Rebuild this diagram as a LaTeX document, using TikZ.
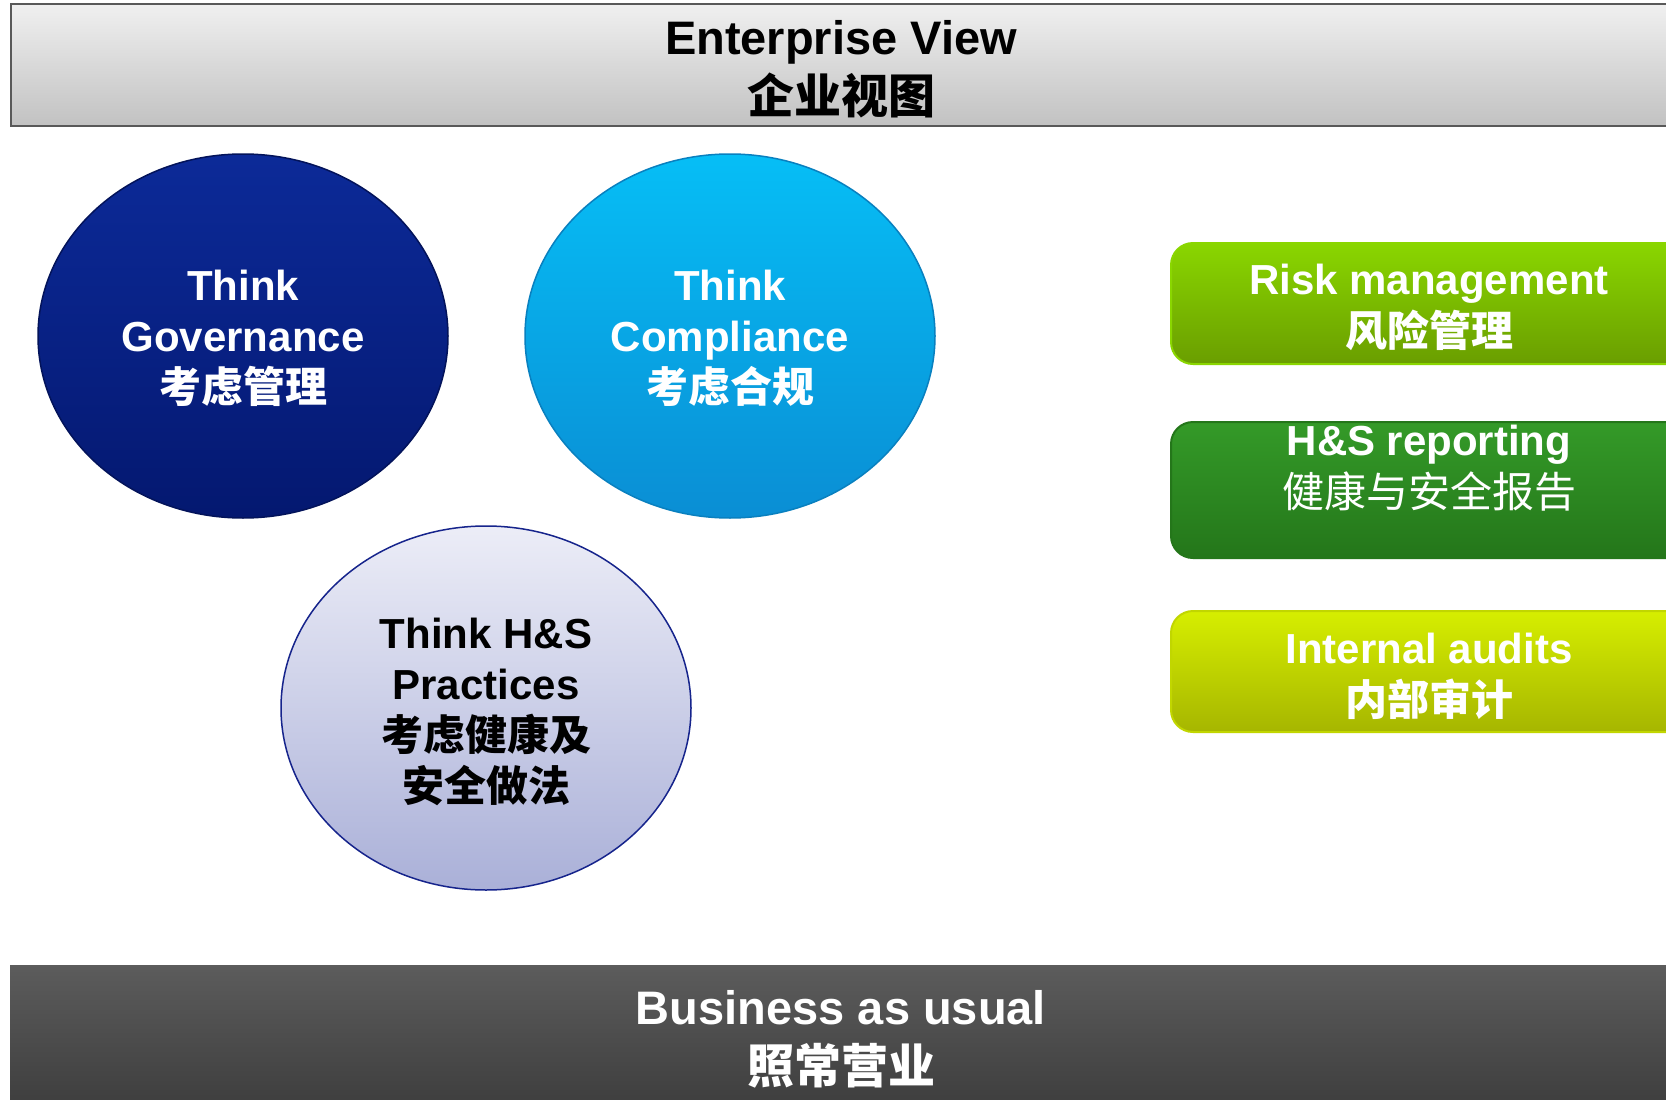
\documentclass[tikz,border=0pt]{standalone}
\usepackage{fontspec}
\setmainfont{Liberation Sans}
\newfontfamily\cjk{Noto Sans CJK SC}
\usetikzlibrary{shapes.geometric}

\definecolor{govtop}{RGB}{12,42,152}
\definecolor{govbot}{RGB}{4,24,112}
\definecolor{comptop}{RGB}{6,190,246}
\definecolor{compbot}{RGB}{10,142,212}
\definecolor{hstop}{RGB}{236,237,247}
\definecolor{hsbot}{RGB}{170,176,216}
\definecolor{hsline}{RGB}{22,36,140}
\definecolor{risktop}{RGB}{138,214,0}
\definecolor{riskbot}{RGB}{106,158,0}
\definecolor{repotop}{RGB}{52,154,40}
\definecolor{repobot}{RGB}{36,118,26}
\definecolor{audittop}{RGB}{214,238,0}
\definecolor{auditbot}{RGB}{166,182,0}

\tikzset{
	thinkball/.style={ellipse, minimum width=410pt, minimum height=364pt, inner sep=0pt, line width=1.5pt, align=center, font=\bfseries\fontsize{42}{51}\selectfont},
	sidebox/.style={rectangle, rounded corners=22pt, minimum width=530pt, anchor=west, line width=2pt},
	boxtext/.style={align=center, text=white, font=\bfseries\fontsize{42}{52}\selectfont},
	bartext/.style={align=center, font=\bfseries\fontsize{47}{59}\selectfont},
}

\begin{document}
\begin{tikzpicture}[x=1pt, y=-1pt]
			%%%%% START %%%%%
			\useasboundingbox (0, 0) rectangle (1666, 1100);
			\fill[white] (0, 0) rectangle (1666, 1100);
			
			% top bar
			\draw[line width=1.5pt, draw=black!65, top color=black!6, bottom color=black!24] (11, 4) rectangle (1690, 126);
			\node[bartext] (enterprise) at (841, 69.5) {Enterprise View\\{\cjk 企业视图}};
			
			% three circles
			\node[thinkball, draw=govbot!80!black, top color=govtop, bottom color=govbot, text=white] (governance) at (243, 336) {};
			\node[thinkball, draw=compbot!90!black, top color=comptop, bottom color=compbot, text=white] (compliance) at (730, 336) {};
			\node[thinkball, draw=hsline, top color=hstop, bottom color=hsbot, text=black] (practices) at (486, 708) {};
			\node[thinkball, draw=none, text=white] (govtext) at (243, 338.5) {Think\\Governance\\{\cjk 考虑管理}};
			\node[thinkball, draw=none, text=white] (comptext) at (730, 338.5) {Think\\Compliance\\{\cjk 考虑合规}};
			\node[thinkball, draw=none, text=black] (hstext) at (486, 712) {Think H\&S\\Practices\\{\cjk 考虑健康及}\\{\cjk 安全做法}};
			
			% right hand boxes
			\node[sidebox, minimum height=121pt, draw=risktop, top color=risktop, bottom color=riskbot] (riskbox) at (1170, 303.5) {};
			\node[boxtext] (risk) at (1429, 307.5) {Risk management\\{\cjk 风险管理}};
			
			\node[sidebox, minimum height=136pt, draw=repobot, top color=repotop, bottom color=repobot] (repobox) at (1170, 490) {};
			\node[boxtext] (reporting) at (1429, 468.5) {H\&S reporting\\{\cjk\mdseries 健康与安全报告}};
			
			\node[sidebox, minimum height=121pt, draw=audittop!90!black, top color=audittop, bottom color=auditbot] (auditbox) at (1170, 671.5) {};
			\node[boxtext] (audits) at (1429, 676.5) {Internal audits\\{\cjk 内部审计}};
			
			% bottom bar
			\fill[top color=black!64, bottom color=black!76] (10, 965) rectangle (1690, 1110);
			\node[bartext, text=white] (usual) at (841, 1039.5) {Business as usual\\{\cjk 照常营业}};
			
			%%%%% END %%%%%
\end{tikzpicture}
\end{document}
